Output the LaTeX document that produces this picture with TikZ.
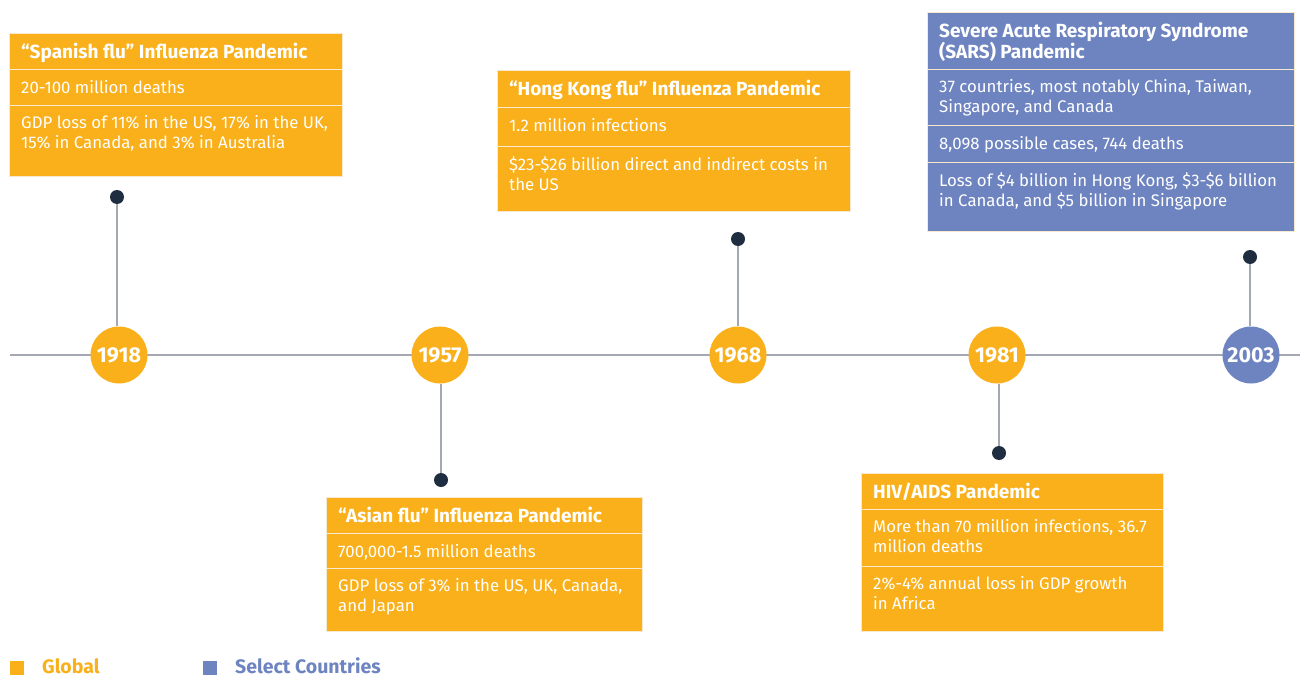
\documentclass[tikz,border=0pt]{standalone}
\usepackage{fontspec}
\setmainfont{Fira Sans}
\usetikzlibrary{calc}
\definecolor{gorange}{HTML}{F9B01A}
\definecolor{sblue}{HTML}{6E84C1}
\definecolor{dotc}{HTML}{1E2D40}
\definecolor{linec}{HTML}{A3A8B3}
\definecolor{sepc}{HTML}{F6E9CF}
\newcommand\prow[8]{%
  \node[rowbox, fill=#6, minimum width=#5, minimum height={#4-#3}, anchor=north west] (#1) at (#2,#3) {};
  \node[#7] (#1t) at ($(#1.north west)+(12,10)$) {#8};
}
\begin{document}
\begin{tikzpicture}[x=1pt,y=-1pt,
  rowbox/.style={rectangle, draw=sepc, line width=1pt, inner sep=0pt},
  titletext/.style={anchor=north west, inner sep=0pt, align=left, text=white,
    font=\fontsize{19}{21}\selectfont\bfseries, execute at begin node=\strut},
  bodytext/.style={anchor=north west, inner sep=0pt, align=left, text=white,
    font=\fontsize{16.8}{20.5}\selectfont, execute at begin node=\strut},
  year/.style={circle, inner sep=0pt, minimum size=57pt, text=white,
    font=\fontsize{21.5}{24}\selectfont\bfseries},
  pin/.style={circle, fill=dotc, inner sep=0pt, minimum size=14pt},
  stem/.style={draw=linec, line width=1.6pt},
  legsq/.style={rectangle, inner sep=0pt, minimum size=14pt, anchor=north west},
  legtext/.style={anchor=base west, inner sep=0pt, font=\fontsize{19.5}{22}\selectfont\bfseries}
]
\useasboundingbox (0,0) rectangle (1300,679);
\fill[white] (0,0) rectangle (1300,679);

% timeline
\coordinate (tlA) at (10,355);
\coordinate (tlB) at (1300,355);
\draw[stem] (tlA) -- (tlB);

% year circles
\node[year, fill=gorange] (y1918) at (119,355) {1918};
\node[year, fill=gorange] (y1957) at (440,355) {1957};
\node[year, fill=gorange] (y1968) at (738,355) {1968};
\node[year, fill=gorange] (y1981) at (997,355) {1981};
\node[year, fill=sblue] (y2003) at (1251,355) {2003};

% pins
\node[pin] (p1918) at (117,197) {};
\node[pin] (p1957) at (441,480) {};
\node[pin] (p1968) at (738,239) {};
\node[pin] (p1981) at (999,453) {};
\node[pin] (p2003) at (1250,257) {};
\draw[stem] (p1918) -- (p1918 |- y1918.north);
\draw[stem] (y1957.south -| p1957) -- (p1957);
\draw[stem] (p1968) -- (p1968 |- y1968.north);
\draw[stem] (y1981.south -| p1981) -- (p1981);
\draw[stem] (p2003) -- (p2003 |- y2003.north);

% Spanish flu
\prow{sa}{9}{33}{69}{333}{gorange}{titletext}{“Spanish flu” Influenza Pandemic}
\prow{sb}{9}{69}{105}{333}{gorange}{bodytext}{20-100 million deaths}
\prow{sc}{9}{105}{176}{333}{gorange}{bodytext}{GDP loss of 11\% in the US, 17\% in the UK,\\15\% in Canada, and 3\% in Australia}

% Asian flu
\prow{aa}{326}{497}{533}{316}{gorange}{titletext}{“Asian flu” Influenza Pandemic}
\prow{ab}{326}{533}{568}{316}{gorange}{bodytext}{700,000-1.5 million deaths}
\prow{ac}{326}{568}{631}{316}{gorange}{bodytext}{GDP loss of 3\% in the US, UK, Canada,\\and Japan}

% Hong Kong flu
\prow{ha}{497}{70}{107}{353}{gorange}{titletext}{“Hong Kong flu” Influenza Pandemic}
\prow{hb}{497}{107}{146}{353}{gorange}{bodytext}{1.2 million infections}
\prow{hc}{497}{146}{211}{353}{gorange}{bodytext}{\$23-\$26 billion direct and indirect costs in\\the US}

% HIV/AIDS
\prow{va}{861}{473}{509}{302}{gorange}{titletext}{HIV/AIDS Pandemic}
\prow{vb}{861}{509}{566}{302}{gorange}{bodytext}{More than 70 million infections, 36.7\\million deaths}
\prow{vc}{861}{566}{631}{302}{gorange}{bodytext}{2\%-4\% annual loss in GDP growth\\in Africa}

% SARS
\prow{ra}{927}{12}{69}{367}{sblue}{titletext}{Severe Acute Respiratory Syndrome\\(SARS) Pandemic}
\prow{rb}{927}{69}{125}{367}{sblue}{bodytext}{37 countries, most notably China, Taiwan,\\Singapore, and Canada}
\prow{rc}{927}{125}{162}{367}{sblue}{bodytext}{8,098 possible cases, 744 deaths}
\prow{rd}{927}{162}{231}{367}{sblue}{bodytext}{Loss of \$4 billion in Hong Kong, \$3-\$6 billion\\in Canada, and \$5 billion in Singapore}

% legend
\node[legsq, fill=gorange] (lg1) at (10,661) {};
\node[legtext, text=gorange] (lg1t) at (42,673) {Global};
\node[legsq, fill=sblue] (lg2) at (203,661) {};
\node[legtext, text=sblue] (lg2t) at (235,673) {Select Countries};
\end{tikzpicture}
\end{document}
